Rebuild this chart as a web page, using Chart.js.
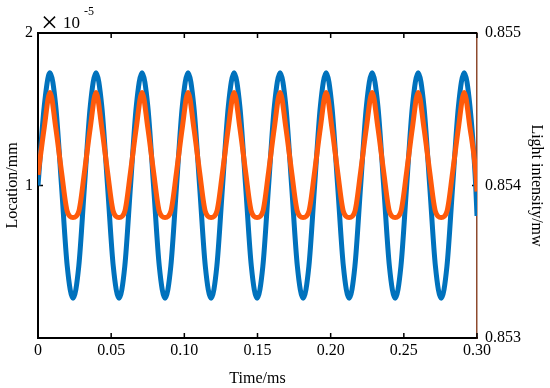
<!DOCTYPE html>
<html>
<head>
<meta charset="utf-8">
<script src="https://cdn.jsdelivr.net/npm/chart.js@4.4.1/dist/chart.umd.min.js"></script>
<style>
  html, body { margin: 0; padding: 0; background: #fff; }
</style>
</head>
<body>
<canvas id="signalChart" width="550" height="388"></canvas>
<script>
// time (ms) at about 1/8 of a period
const timeMs = [
  0, 0.00427, 0.00820, 0.01213, 0.01606, 0.01999, 0.02393, 0.02786, 0.03179, 0.03572,
  0.03965, 0.04358, 0.04751, 0.05144, 0.05538, 0.05931, 0.06324, 0.06717, 0.07110, 0.07503,
  0.07896, 0.08289, 0.08683, 0.09076, 0.09469, 0.09862, 0.10255, 0.10648, 0.11041, 0.11434,
  0.11828, 0.12221, 0.12614, 0.13007, 0.13400, 0.13793, 0.14186, 0.14579, 0.14973, 0.15366,
  0.15759, 0.16152, 0.16545, 0.16938, 0.17331, 0.17724, 0.18118, 0.18511, 0.18904, 0.19297,
  0.19690, 0.20083, 0.20476, 0.20869, 0.21263, 0.21656, 0.22049, 0.22442, 0.22835, 0.23228,
  0.23621, 0.24014, 0.24408, 0.24801, 0.25194, 0.25587, 0.25980, 0.26373, 0.26766, 0.27159,
  0.27553, 0.27946, 0.28339, 0.28732, 0.29125, 0.29518, 0.29911, 0.30000
];

// Location/mm (x 10^-5), left axis
const locationMm = [
  1.00,
  1.52, 1.74, 1.52, 1.00, 0.47, 0.26, 0.47, 1.00,
  1.52, 1.74, 1.52, 1.00, 0.47, 0.26, 0.47, 1.00,
  1.52, 1.74, 1.52, 1.00, 0.47, 0.26, 0.47, 1.00,
  1.52, 1.74, 1.52, 1.00, 0.47, 0.26, 0.47, 1.00,
  1.52, 1.74, 1.52, 1.00, 0.47, 0.26, 0.47, 1.00,
  1.52, 1.74, 1.52, 1.00, 0.47, 0.26, 0.47, 1.00,
  1.52, 1.74, 1.52, 1.00, 0.47, 0.26, 0.47, 1.00,
  1.52, 1.74, 1.52, 1.00, 0.47, 0.26, 0.47, 1.00,
  1.52, 1.74, 1.52, 1.00, 0.47, 0.26, 0.47, 1.00,
  1.52, 1.74, 1.52, 1.00, 0.80
];

// Light intensity/mw, right axis
const lightIntensity = [
  0.85407,
  0.85438, 0.85461, 0.85438, 0.85409, 0.85383, 0.85379, 0.85383, 0.85409,
  0.85438, 0.85461, 0.85438, 0.85409, 0.85383, 0.85379, 0.85383, 0.85409,
  0.85438, 0.85461, 0.85438, 0.85409, 0.85383, 0.85379, 0.85383, 0.85409,
  0.85438, 0.85461, 0.85438, 0.85409, 0.85383, 0.85379, 0.85383, 0.85409,
  0.85438, 0.85461, 0.85438, 0.85409, 0.85383, 0.85379, 0.85383, 0.85409,
  0.85438, 0.85461, 0.85438, 0.85409, 0.85383, 0.85379, 0.85383, 0.85409,
  0.85438, 0.85461, 0.85438, 0.85409, 0.85383, 0.85379, 0.85383, 0.85409,
  0.85438, 0.85461, 0.85438, 0.85409, 0.85383, 0.85379, 0.85383, 0.85409,
  0.85438, 0.85461, 0.85438, 0.85409, 0.85383, 0.85379, 0.85383, 0.85409,
  0.85438, 0.85461, 0.85438, 0.85409, 0.85396
];

// ticks
const xTicks = [0, 0.05, 0.10, 0.15, 0.20, 0.25, 0.30];
const xTickLabels = ['0', '0.05', '0.10', '0.15', '0.20', '0.25', '0.30'];
const leftTicks = [0, 1, 2];
const leftTickLabels = ['', '1', '2'];
const rightTicks = [0.853, 0.854, 0.855];
const rightTickLabels = ['0.853', '0.854', '0.855'];

const serif = "'Liberation Serif', 'Times New Roman', serif";

// inside ticks, top frame line and the x10^-5 mark
const frameTicks = {
    id: 'frameTicks',
    beforeDatasetsDraw(chart) {
        const { ctx, chartArea: a, scales } = chart;
        ctx.save();
        ctx.strokeStyle = '#000';
        ctx.lineWidth = 2;
        ctx.beginPath();
        ctx.moveTo(a.left - 1, a.top);
        ctx.lineTo(a.right, a.top);
        ctx.stroke();

        ctx.lineWidth = 1.5;
        ctx.beginPath();
        xTicks.forEach(v => {
            const px = scales.x.getPixelForValue(v);
            ctx.moveTo(px, a.bottom);
            ctx.lineTo(px, a.bottom - 5);
            ctx.moveTo(px, a.top);
            ctx.lineTo(px, a.top + 5);
        });
        leftTicks.forEach(v => {
            const py = scales.y.getPixelForValue(v);
            ctx.moveTo(a.left, py);
            ctx.lineTo(a.left + 5, py);
        });
        rightTicks.forEach(v => {
            const py = scales.y1.getPixelForValue(v);
            ctx.moveTo(a.right, py);
            ctx.lineTo(a.right - 5, py);
        });
        ctx.stroke();
        ctx.restore();
    },
    afterDraw(chart) {
        const { ctx, chartArea: a } = chart;
        ctx.save();
        ctx.fillStyle = '#000';
        ctx.textBaseline = 'alphabetic';
        ctx.font = '30px ' + serif;
        ctx.fillText('\u00d7', a.left + 3, a.top - 1);
        ctx.font = '17px ' + serif;
        ctx.fillText('10', a.left + 25, a.top - 5);
        ctx.font = '12px ' + serif;
        ctx.fillText('-5', a.left + 46, a.top - 18);
        ctx.restore();
    }
};

const ctx = document.getElementById('signalChart');
new Chart(ctx, {
    type: 'line',
    data: {
        datasets: [
            {
                label: 'Location',
                data: timeMs.map((t, i) => ({ x: t, y: locationMm[i] })),
                borderColor: '#0072BD',
                borderWidth: 5,
                pointRadius: 0,
                cubicInterpolationMode: 'monotone',
                yAxisID: 'y',
                order: 2
            },
            {
                label: 'Light intensity',
                data: timeMs.map((t, i) => ({ x: t, y: lightIntensity[i] })),
                borderColor: '#FF5A0A',
                borderWidth: 5,
                pointRadius: 0,
                cubicInterpolationMode: 'monotone',
                yAxisID: 'y1',
                order: 1
            }
        ]
    },
    options: {
        responsive: false,
        devicePixelRatio: 1,
        animation: false,
        layout: { padding: { top: 33, left: 0, right: 0, bottom: 0 } },
        plugins: {
            legend: { display: false },
            tooltip: { enabled: false }
        },
        scales: {
            x: {
                type: 'linear',
                position: 'bottom',
                min: 0,
                max: 0.3,
                afterFit: s => { s.height = 50; },
                afterBuildTicks: s => { s.ticks = xTicks.map(v => ({ value: v })); },
                grid: { display: false, drawTicks: false },
                border: { display: true, color: '#000', width: 2 },
                ticks: {
                    color: '#000',
                    font: { family: serif, size: 16 },
                    padding: 3,
                    maxRotation: 0,
                    autoSkip: false,
                    callback: (v, i) => xTickLabels[i]
                },
                title: {
                    display: true,
                    text: 'Time/ms',
                    color: '#000',
                    font: { family: serif, size: 16 },
                    padding: 0
                }
            },
            y: {
                type: 'linear',
                position: 'left',
                min: 0,
                max: 2,
                afterFit: s => { s.width = 38; },
                afterBuildTicks: s => { s.ticks = leftTicks.map(v => ({ value: v })); },
                grid: { display: false, drawTicks: false },
                border: { display: true, color: '#000', width: 2 },
                ticks: {
                    color: '#000',
                    font: { family: serif, size: 16 },
                    padding: 5,
                    callback: (v, i) => leftTickLabels[i]
                },
                title: {
                    display: true,
                    text: 'Location/mm',
                    color: '#000',
                    font: { family: serif, size: 16 },
                    padding: { top: 3, bottom: 0 }
                }
            },
            y1: {
                type: 'linear',
                position: 'right',
                min: 0.853,
                max: 0.855,
                afterFit: s => { s.width = 73; },
                afterBuildTicks: s => { s.ticks = rightTicks.map(v => ({ value: v })); },
                grid: { display: false, drawTicks: false },
                border: { display: true, color: '#8E4A2E', width: 1.5 },
                ticks: {
                    color: '#000',
                    font: { family: serif, size: 16 },
                    padding: 8,
                    callback: (v, i) => rightTickLabels[i]
                },
                title: {
                    display: true,
                    text: 'Light intensity/mw',
                    color: '#000',
                    font: { family: serif, size: 16 },
                    padding: { top: 4, bottom: 0 }
                }
            }
        }
    },
    plugins: [frameTicks]
});
</script>
</body>
</html>
